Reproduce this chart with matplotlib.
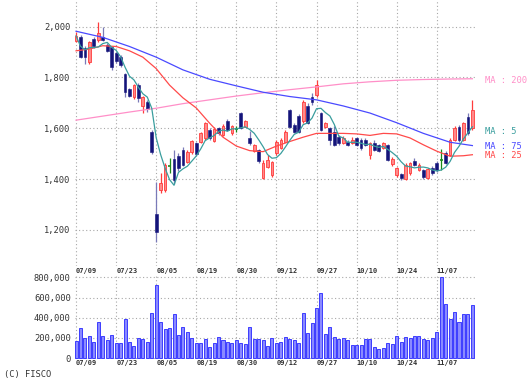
import numpy as np
import pandas as pd
import matplotlib
matplotlib.use('Agg')
import matplotlib.pyplot as plt

# daily candles, 07/09 -> mid november (90 sessions)
dates = ['07/09', '07/23', '08/05', '08/19', '08/30',
         '09/12', '09/27', '10/10', '10/24', '11/07']
date_idx = [0, 9, 18, 27, 36, 45, 54, 63, 72, 81]

opens = [1945, 1958, 1915, 1859, 1951, 1948, 1961, 1928, 1919, 1895,
         1882, 1813, 1754, 1722, 1771, 1686, 1705, 1587, 1263, 1358,
         1358, 1450, 1480, 1489, 1515, 1469, 1505, 1541, 1548, 1561,
         1592, 1550, 1600, 1575, 1628, 1580, 1597, 1660, 1607, 1562,
         1510, 1515, 1403, 1448, 1417, 1502, 1523, 1548, 1672, 1613,
         1649, 1627, 1686, 1725, 1731, 1659, 1607, 1600, 1587, 1567,
         1541, 1548, 1541, 1561, 1554, 1554, 1495, 1541, 1535, 1522,
         1535, 1460, 1417, 1419, 1400, 1423, 1473, 1436, 1436, 1404,
         1443, 1462, 1476, 1502, 1495, 1554, 1607, 1554, 1646, 1600]
highs = [1981, 1966, 1922, 1945, 1958, 2020, 2000, 1935, 1925, 1902,
         1888, 1817, 1760, 1776, 1778, 1728, 1712, 1593, 1390, 1423,
         1462, 1482, 1515, 1502, 1525, 1515, 1555, 1548, 1587, 1626,
         1600, 1605, 1606, 1618, 1635, 1612, 1610, 1665, 1632, 1590,
         1540, 1520, 1474, 1495, 1470, 1552, 1560, 1592, 1675, 1620,
         1655, 1712, 1700, 1740, 1790, 1665, 1625, 1605, 1608, 1572,
         1570, 1555, 1565, 1565, 1560, 1560, 1545, 1555, 1540, 1545,
         1540, 1488, 1448, 1425, 1462, 1468, 1483, 1462, 1440, 1445,
         1450, 1470, 1518, 1512, 1560, 1610, 1612, 1625, 1660, 1712]
lows = [1941, 1876, 1853, 1853, 1915, 1940, 1944, 1900, 1830, 1856,
        1843, 1722, 1722, 1716, 1705, 1662, 1666, 1500, 1154, 1344,
        1350, 1426, 1380, 1430, 1450, 1462, 1500, 1492, 1543, 1555,
        1555, 1545, 1575, 1570, 1590, 1575, 1585, 1598, 1605, 1535,
        1505, 1465, 1400, 1445, 1410, 1495, 1518, 1545, 1600, 1580,
        1580, 1620, 1615, 1690, 1725, 1590, 1600, 1535, 1530, 1535,
        1538, 1530, 1538, 1530, 1515, 1530, 1480, 1510, 1508, 1518,
        1470, 1450, 1410, 1398, 1398, 1418, 1450, 1430, 1402, 1400,
        1418, 1428, 1434, 1458, 1490, 1550, 1548, 1550, 1574, 1595]
closes = [1964, 1882, 1882, 1941, 1922, 1974, 1948, 1906, 1843, 1863,
          1850, 1741, 1728, 1771, 1718, 1722, 1675, 1508, 1190, 1386,
          1456, 1450, 1397, 1443, 1456, 1508, 1550, 1499, 1581, 1620,
          1560, 1598, 1580, 1610, 1594, 1608, 1597, 1600, 1630, 1541,
          1535, 1470, 1463, 1475, 1468, 1546, 1554, 1587, 1607, 1587,
          1587, 1704, 1620, 1704, 1771, 1594, 1620, 1554, 1535, 1541,
          1560, 1535, 1554, 1535, 1522, 1535, 1541, 1515, 1512, 1541,
          1476, 1478, 1443, 1404, 1456, 1462, 1456, 1456, 1407, 1439,
          1423, 1434, 1476, 1462, 1554, 1600, 1554, 1621, 1582, 1672]

volume = [167, 300, 197, 223, 160, 360, 217, 177, 227, 147,
          153, 383, 163, 120, 203, 193, 160, 443, 720, 360,
          283, 300, 437, 233, 310, 260, 200, 147, 153, 193,
          110, 153, 210, 177, 163, 147, 177, 147, 137, 303,
          187, 193, 177, 120, 200, 153, 163, 207, 193, 177,
          153, 443, 253, 343, 493, 643, 243, 310, 210, 187,
          203, 183, 133, 133, 133, 193, 193, 110, 93, 100,
          153, 143, 217, 160, 210, 203, 217, 223, 193, 177,
          200, 260, 803, 537, 383, 460, 353, 437, 437, 527]  # x1000 shares

# longer moving averages, every few sessions
ma_long_idx = [0, 6, 12, 18, 24, 30, 36, 42, 48, 54, 60, 66, 72, 78, 84, 89]
ma200 = [1632, 1648, 1664, 1679, 1697, 1712, 1727, 1740, 1752, 1763,
         1775, 1783, 1789, 1792, 1794, 1795]
ma75 = [1982, 1958, 1922, 1880, 1830, 1793, 1767, 1742, 1725, 1712,
        1688, 1660, 1622, 1580, 1545, 1532]
ma25_idx = list(range(0, 90, 3)) + [89]
ma25 = [1905, 1912, 1925, 1922, 1905, 1880, 1835, 1770, 1720, 1680,
        1620, 1565, 1530, 1512, 1508, 1530, 1548, 1565, 1580, 1580,
        1580, 1578, 1572, 1580, 1578, 1562, 1535, 1510, 1490, 1492, 1496]

MONO = 'DejaVu Sans Mono'
GRID = dict(color='#a8a8a8', lw=0.8, linestyle=(0, (1, 2.2)))
C_UP, C_UP_EDGE = '#ff8a8a', '#ff3c3c'
C_DN = '#14147a'
C_DN_WICK = '#7a7ab8'
C_DOJI = '#1a8a1a'


def set_grid(ax, yticks):
    for y in yticks:
        ax.axhline(y, zorder=0, **GRID)
    for i in date_idx:
        ax.axvline(i, zorder=0, **GRID)
    for s in ax.spines.values():
        s.set_visible(False)
    ax.set_xlim(-0.3, 89.8)
    ax.tick_params(length=0, labelsize=6.3, colors='#333333')
    ax.set_yticks(yticks)
    for lab in ax.get_yticklabels():
        lab.set_family(MONO)


def plot():
    fig = plt.figure(figsize=(5.31, 3.86), dpi=100)
    ax = fig.add_axes([0.1407, 0.3109, 0.7556, 0.6891])
    axv = fig.add_axes([0.1407, 0.0699, 0.7556, 0.2202])

    x = np.arange(len(closes))
    o, h, l, c = map(np.array, (opens, highs, lows, closes))

    # price panel
    set_grid(ax, [1200, 1400, 1600, 1800, 2000])
    ax.set_ylim(1058, 2105)
    ax.yaxis.set_major_formatter(matplotlib.ticker.StrMethodFormatter('{x:,.0f}'))
    ax.tick_params(axis='y', pad=2.9)

    up, dn, dj = c > o, c < o, c == o
    ax.vlines(x[up], l[up], h[up], color=C_UP_EDGE, lw=0.9, zorder=2)
    ax.vlines(x[dn], l[dn], h[dn], color=C_DN_WICK, lw=0.9, zorder=2)
    ax.vlines(x[dj], l[dj], h[dj], color=C_DOJI, lw=0.9, zorder=2)
    ax.bar(x[up], c[up] - o[up], bottom=o[up], width=0.62,
           color=C_UP, edgecolor=C_UP_EDGE, lw=0.6, zorder=3)
    ax.bar(x[dn], o[dn] - c[dn], bottom=c[dn], width=0.62,
           color=C_DN, edgecolor=C_DN, lw=0.4, zorder=3)
    ax.hlines(c[dj], x[dj] - 0.35, x[dj] + 0.35, color=C_DOJI, lw=1.2, zorder=3)

    ma5 = pd.Series(closes).rolling(5, min_periods=1).mean()
    ax.plot(ma_long_idx, ma200, color='#ff8fc8', lw=0.9, zorder=4)
    ax.plot(ma_long_idx, ma75, color='#4a4aff', lw=0.9, zorder=4)
    ax.plot(ma25_idx, ma25, color='#ff4a4a', lw=0.9, zorder=4)
    ax.plot(x, ma5, color='#3a9e9e', lw=0.9, zorder=4)

    ax.set_xticks(date_idx)
    ax.set_xticklabels(dates, family=MONO, fontsize=5, fontweight='bold',
                       ha='left', color='#333333')
    ax.tick_params(axis='x', pad=1.2)

    # labels of the averages, right of the panel
    for txt, y, col in [('MA : 200', 1787, '#ff8fc8'), ('MA : 5', 1588, '#3a9e9e'),
                        ('MA : 75', 1530, '#4a4aff'), ('MA : 25', 1493, '#ff4a4a')]:
        ax.text(91.8, y, txt, color=col, fontsize=6.3, family=MONO,
                va='center', ha='left', clip_on=False)

    # volume panel
    set_grid(axv, [0, 200000, 400000, 600000, 800000])
    axv.set_ylim(-10000, 833000)
    axv.yaxis.set_major_formatter(matplotlib.ticker.StrMethodFormatter('{x:,.0f}'))
    axv.tick_params(axis='y', pad=2.9)
    axv.bar(x, np.array(volume) * 1000, width=0.68, color='#8a8aff',
            edgecolor='#3c3cff', lw=0.7, zorder=1)
    axv.set_xticks(date_idx)
    axv.set_xticklabels(dates, family=MONO, fontsize=5, fontweight='bold',
                        ha='left', color='#333333')
    axv.tick_params(axis='x', pad=1.0)

    fig.text(4 / 531, 1 - 375 / 386, '(C) FISCO', family=MONO, fontsize=6.3,
             color='#333333', va='center', ha='left')
    return fig


if __name__ == '__main__':
    fig = plot()
    fig.savefig('out.png', dpi=100)
